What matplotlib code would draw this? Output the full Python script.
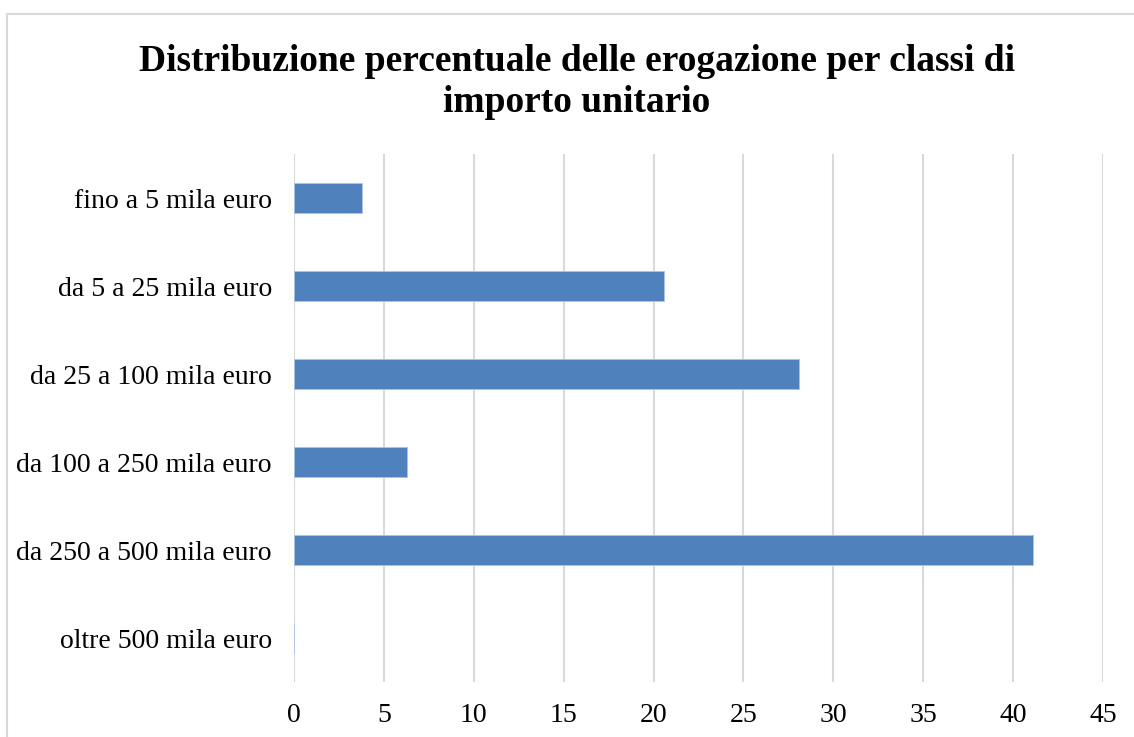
import matplotlib.pyplot as plt
from matplotlib.patches import Rectangle

# dati
categorie = ["fino a 5 mila euro", "da 5 a 25 mila euro", "da 25 a 100 mila euro",
             "da 100 a 250 mila euro", "da 250 a 500 mila euro", "oltre 500 mila euro"]
valori = [3.8, 20.6, 28.1, 6.3, 41.1, 0.0]
xticks = [0, 5, 10, 15, 20, 25, 30, 35, 40, 45]

plt.rcParams['font.family'] = ['Liberation Serif', 'DejaVu Serif']

fig = plt.figure(figsize=(11.34, 7.37), dpi=100)
ax = fig.add_axes([294 / 1134, 1 - 682 / 737, (1103 - 294) / 1134, (682 - 154) / 737])

# cornice grigia (tagliata a destra e in basso)
fig.patches.append(Rectangle((7 / 1134, -0.1), 1.2, 1 - 14 / 737 + 0.1,
                             transform=fig.transFigure, fill=False,
                             edgecolor='#d9d9d9', linewidth=1.5))

pos = list(range(len(categorie)))
ax.barh(pos, valori, height=0.35, color='#4f81bd', edgecolor='#a9c4e6', linewidth=0.6, zorder=3)

ax.set_xlim(0, 45)
ax.set_ylim(len(categorie) - 0.5, -0.5)
ax.set_xticks(xticks)
ax.set_xticklabels([str(t) for t in xticks], fontsize=20)
ax.set_yticks(pos)
ax.set_yticklabels(categorie, fontsize=20)
ax.tick_params(length=0)
ax.tick_params(axis='y', pad=16)
ax.tick_params(axis='x', pad=15)
ax.grid(axis='x', color='#d9d9d9', linewidth=1.5, zorder=0)
for s in ax.spines.values():
    s.set_visible(False)

fig.text(577 / 1134, 1 - 82 / 737, "Distribuzione percentuale delle erogazione per classi di\nimporto unitario",
         ha='center', va='center', fontsize=27, fontweight='bold', linespacing=1.25)

fig.savefig('out.png', dpi=100)
